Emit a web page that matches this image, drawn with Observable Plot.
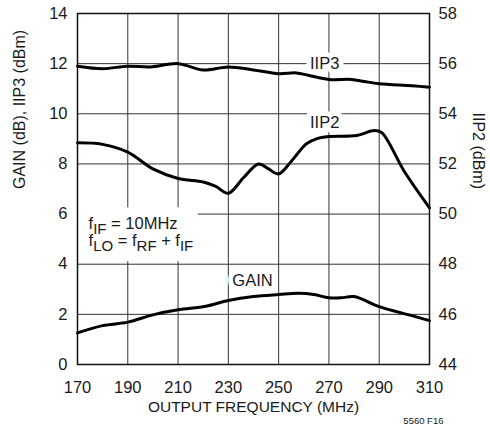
<!DOCTYPE html>
<html><head><meta charset="utf-8">
<script src="https://cdn.jsdelivr.net/npm/d3@7"></script>
<script src="https://cdn.jsdelivr.net/npm/@observablehq/plot@0.6"></script>
<style>
body{margin:0;background:#fff;}
#chart svg{font-family:"Liberation Sans",Arial,sans-serif;}
</style></head><body><div id="chart"></div>
<script>
// Tick values
const freqTicks = [170, 190, 210, 230, 250, 270, 290, 310];
const leftTicks = [0, 2, 4, 6, 8, 10, 12, 14];
const rightTicks = [44, 46, 48, 50, 52, 54, 56, 58];

// IIP3 (dBm, left axis)
const iip3Freq = [170, 180, 190, 199, 210, 220, 230, 240, 250, 257, 262, 270, 279, 284, 290, 303, 310];
const iip3Val  = [11.9, 11.8, 11.9, 11.87, 12.0, 11.75, 11.87, 11.75, 11.6, 11.63, 11.53, 11.37, 11.37, 11.29, 11.2, 11.12, 11.06];

// IIP2 (dBm, right axis)
const iip2Freq = [170, 180, 190, 200, 210, 220, 225, 230, 236, 242, 246, 250, 255, 261, 265, 270, 281, 288, 291, 300, 310];
const iip2Val  = [52.84, 52.78, 52.47, 51.8, 51.42, 51.28, 51.1, 50.83, 51.45, 52.0, 51.8, 51.6, 52.1, 52.8, 53.0, 53.09, 53.13, 53.33, 53.25, 51.7, 50.25];

// GAIN (dB, left axis)
const gainFreq = [170, 180, 190, 200, 210, 221, 230, 240, 250, 258, 264, 270, 275, 280, 290, 303, 310];
const gainVal  = [1.26, 1.55, 1.69, 1.98, 2.18, 2.32, 2.55, 2.71, 2.79, 2.84, 2.79, 2.66, 2.66, 2.71, 2.31, 1.95, 1.75];

// Curve labels
const labelText = ["IIP3", "IIP2", "GAIN"];
const labelFreq = [268.3, 268.3, 239.6];
const labelVal  = [12.0, 9.63, 3.33];

// Condition note (text in {} is subscript)
const noteLines = ["f{IF} = 10MHz", "f{LO} = f{RF} + f{IF}"];
const noteFreq = [174.4, 174.4];
const noteVal  = [5.62, 4.92];

const rightOffset = 44; // IIP2 axis = left axis + 44
const iip3 = iip3Freq.map((f, i) => ({f, v: iip3Val[i]}));
const iip2 = iip2Freq.map((f, i) => ({f, v: iip2Val[i] - rightOffset}));
const gain = gainFreq.map((f, i) => ({f, v: gainVal[i]}));
const labels = labelText.map((t, i) => ({t, f: labelFreq[i], v: labelVal[i]}));
const notes = noteLines.map((t, i) => ({t, f: noteFreq[i], v: noteVal[i]}));

const ink = "#1a1a1a";
const lineOpts = {x: "f", y: "v", stroke: "#000", strokeWidth: 3, curve: "catmull-rom"};

const plot = Plot.plot({
  width: 490, height: 433,
  marginLeft: 77, marginRight: 61, marginTop: 13, marginBottom: 69,
  style: {background: "white", color: ink, fontSize: "16.5px", overflow: "visible"},
  x: {domain: [170, 310]},
  y: {domain: [0, 14]},
  marks: [
    Plot.gridX(freqTicks, {stroke: "#333", strokeOpacity: 1, strokeWidth: 1}),
    Plot.gridY(leftTicks, {stroke: "#333", strokeOpacity: 1, strokeWidth: 1}),
    Plot.rect([0], {x1: 170, x2: 218, y1: 4.1, y2: 6.25, fill: "white"}),
    Plot.text(labels, {x: "f", y: "v", text: "t", fill: ink, stroke: "white", strokeWidth: 10, paintOrder: "stroke", fontSize: 16.5}),
    Plot.text(notes, {x: "f", y: "v", text: "t", fill: ink, textAnchor: "start", fontSize: 16.5}),
    Plot.line(iip3, lineOpts),
    Plot.line(iip2, lineOpts),
    Plot.line(gain, lineOpts),
    Plot.frame({stroke: "#111", strokeWidth: 1.5}),
    Plot.axisX(freqTicks, {tickSize: 0, tickPadding: 17, label: null, fontSize: 16.5}),
    Plot.axisY(leftTicks, {anchor: "left", tickSize: 0, tickPadding: 10, label: null, fontSize: 16.5}),
    Plot.axisY(leftTicks, {anchor: "right", tickSize: 0, tickPadding: 9, label: null, fontSize: 16.5,
      tickFormat: d => rightTicks[leftTicks.indexOf(d)]}),
    Plot.text(["OUTPUT FREQUENCY (MHz)"], {frameAnchor: "bottom", dy: 47, fontSize: 15.5, fill: ink}),
    Plot.text(["GAIN (dB), IIP3 (dBm)"], {frameAnchor: "left", dx: -58, rotate: -90, fontSize: 16, fill: ink}),
    Plot.text(["IIP2 (dBm)"], {frameAnchor: "right", dx: 49, rotate: 90, fontSize: 16, fill: ink}),
    Plot.text(["5560 F16"], {frameAnchor: "bottom-right", dx: 14, dy: 59, textAnchor: "end", fontSize: 9.5, fill: ink})
  ]
});

// Subscripts in note lines
d3.select(plot).selectAll("text").each(function() {
  if (this.childElementCount > 0) return;
  const s = this.textContent;
  if (!s.includes("{")) return;
  const el = d3.select(this);
  el.text(null);
  const parts = s.split(/(\{[^}]*\})/).filter(p => p.length);
  let shifted = false;
  for (const p of parts) {
    if (p.startsWith("{")) {
      el.append("tspan").attr("font-size", "15px").attr("dy", shifted ? null : 5).text(p.slice(1, -1));
      shifted = true;
    } else {
      el.append("tspan").attr("dy", shifted ? -5 : null).text(p);
      shifted = false;
    }
  }
});

document.getElementById("chart").appendChild(plot);
</script></body></html>
